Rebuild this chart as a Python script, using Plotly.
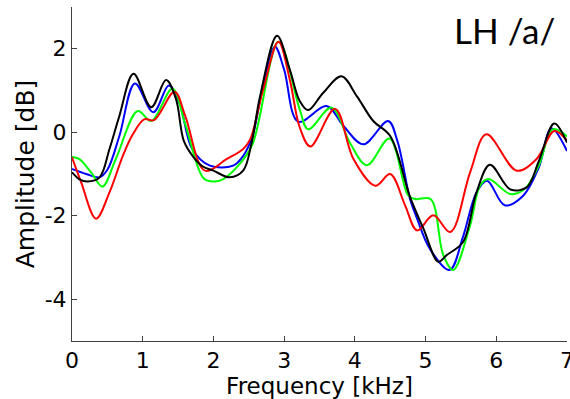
import plotly.graph_objects as go

# Frequency (kHz) / amplitude (dB) samples, one pair per curve
black_f = [0.0, 0.1, 0.22, 0.39, 0.53, 0.67, 0.87, 1.12, 1.33, 1.47, 1.58, 1.72, 1.85, 2.0, 2.23, 2.42, 2.54, 2.66, 2.90, 3.08, 3.22, 3.34, 3.55, 3.81, 4.03, 4.26, 4.5, 4.78, 4.97, 5.18, 5.30, 5.53, 5.72, 5.91, 6.2, 6.43, 6.6, 6.82, 7.0]
black_a = [-0.96, -1.12, -1.18, -1.08, -0.40, 0.39, 1.40, 0.60, 1.25, 0.8, -0.2, -0.6, -0.82, -0.92, -1.08, -0.92, -0.25, 0.86, 2.31, 1.5, 0.75, 0.53, 0.94, 1.34, 0.86, 0.27, -0.09, -1.55, -2.31, -3.10, -2.94, -2.63, -1.44, -0.78, -1.37, -1.32, -0.7, 0.21, -0.25]

blue_f = [0.0, 0.2, 0.39, 0.5, 0.67, 0.89, 1.15, 1.37, 1.52, 1.7, 1.95, 2.28, 2.42, 2.55, 2.7, 2.87, 3.0, 3.2, 3.6, 3.84, 4.12, 4.47, 4.6, 4.78, 4.88, 5.06, 5.34, 5.53, 5.72, 5.87, 6.12, 6.38, 6.6, 6.78, 7.0]
blue_a = [-0.88, -1.0, -1.08, -0.9, -0.09, 1.17, 0.48, 1.12, 0.7, -0.4, -0.80, -0.80, -0.57, -0.1, 1.1, 2.05, 1.5, 0.25, 0.63, 0.15, -0.29, 0.27, -0.2, -1.6, -2.07, -2.79, -3.30, -2.5, -1.44, -1.16, -1.75, -1.52, -0.85, 0.09, -0.45]

green_f = [0.0, 0.10, 0.27, 0.43, 0.62, 0.93, 1.12, 1.42, 1.6, 1.86, 2.0, 2.14, 2.35, 2.55, 2.92, 3.22, 3.34, 3.67, 3.93, 4.17, 4.49, 4.75, 4.85, 5.07, 5.25, 5.39, 5.63, 5.77, 5.89, 6.2, 6.4, 6.6, 6.8, 7.0]
green_a = [-0.59, -0.64, -0.96, -1.30, -0.64, 0.51, 0.27, 1.04, 0.2, -1.1, -1.18, -1.12, -0.8, -0.3, 2.17, 0.55, 0.07, 0.59, -0.25, -0.79, -0.15, -1.5, -1.6, -1.6, -2.94, -3.30, -2.23, -1.28, -1.12, -1.48, -1.36, -0.8, 0.07, -0.1]

red_f = [0.0, 0.13, 0.34, 0.53, 0.72, 0.86, 1.02, 1.16, 1.45, 1.6, 1.88, 2.19, 2.42, 2.52, 2.7, 2.92, 3.08, 3.22, 3.37, 3.72, 3.98, 4.29, 4.5, 4.71, 4.88, 5.11, 5.35, 5.63, 5.86, 6.29, 6.57, 6.82, 7.0]
red_a = [-0.60, -1.20, -2.07, -1.44, -0.56, -0.05, 0.31, 0.29, 0.97, 0.4, -0.92, -0.64, -0.40, -0.17, 1.0, 2.17, 1.26, 0.12, -0.34, 0.56, -0.64, -1.28, -1.0, -1.75, -2.35, -1.99, -2.39, -0.96, -0.05, -0.92, -0.64, 0.03, -0.2]

x_ticks = [0, 1, 2, 3, 4, 5, 6, 7]
y_ticks = [-4, -2, 0, 2]

series = [
    (blue_f, blue_a, "#0000ff"),
    (green_f, green_a, "#00ff00"),
    (red_f, red_a, "#ff0000"),
    (black_f, black_a, "#000000"),
]

fig = go.Figure()
for f, a, col in series:
    fig.add_trace(go.Scatter(x=f, y=a, mode="lines", line=dict(color=col, width=2, shape="spline", smoothing=1.0),
                             showlegend=False, hoverinfo="skip", cliponaxis=False))

axis_common = dict(showgrid=False, zeroline=False, showline=True, linecolor="#404040", linewidth=1,
                   ticks="inside", ticklen=5, tickcolor="#404040", tickwidth=1, automargin=False,
                   ticklabeloverflow="allow",
                   tickfont=dict(family="DejaVu Sans", size=22, color="black"), mirror=False)

fig.update_layout(
    width=570, height=399,
    margin=dict(l=72, r=3, t=7, b=58),
    paper_bgcolor="white", plot_bgcolor="white",
    xaxis=dict(range=[0, 7], tickvals=x_ticks, ticktext=[str(v) for v in x_ticks],
               title=dict(text="Frequency [kHz]", font=dict(family="DejaVu Sans", size=23, color="black"), standoff=2),
               **axis_common),
    yaxis=dict(range=[-5, 3], tickvals=y_ticks, ticktext=[str(v) for v in y_ticks],
               title=dict(text="Amplitude [dB]", font=dict(family="DejaVu Sans", size=25, color="black"), standoff=2),
               **axis_common),
    annotations=[dict(text="LH /a/", xref="paper", yref="paper", x=0.979, y=1.0, xanchor="right", yanchor="top",
                      showarrow=False, font=dict(family="Lato", size=35, color="black"))],
)

fig.write_html("out.html", config={"displayModeBar": False},
               post_script="document.body.style.margin='0px';")
